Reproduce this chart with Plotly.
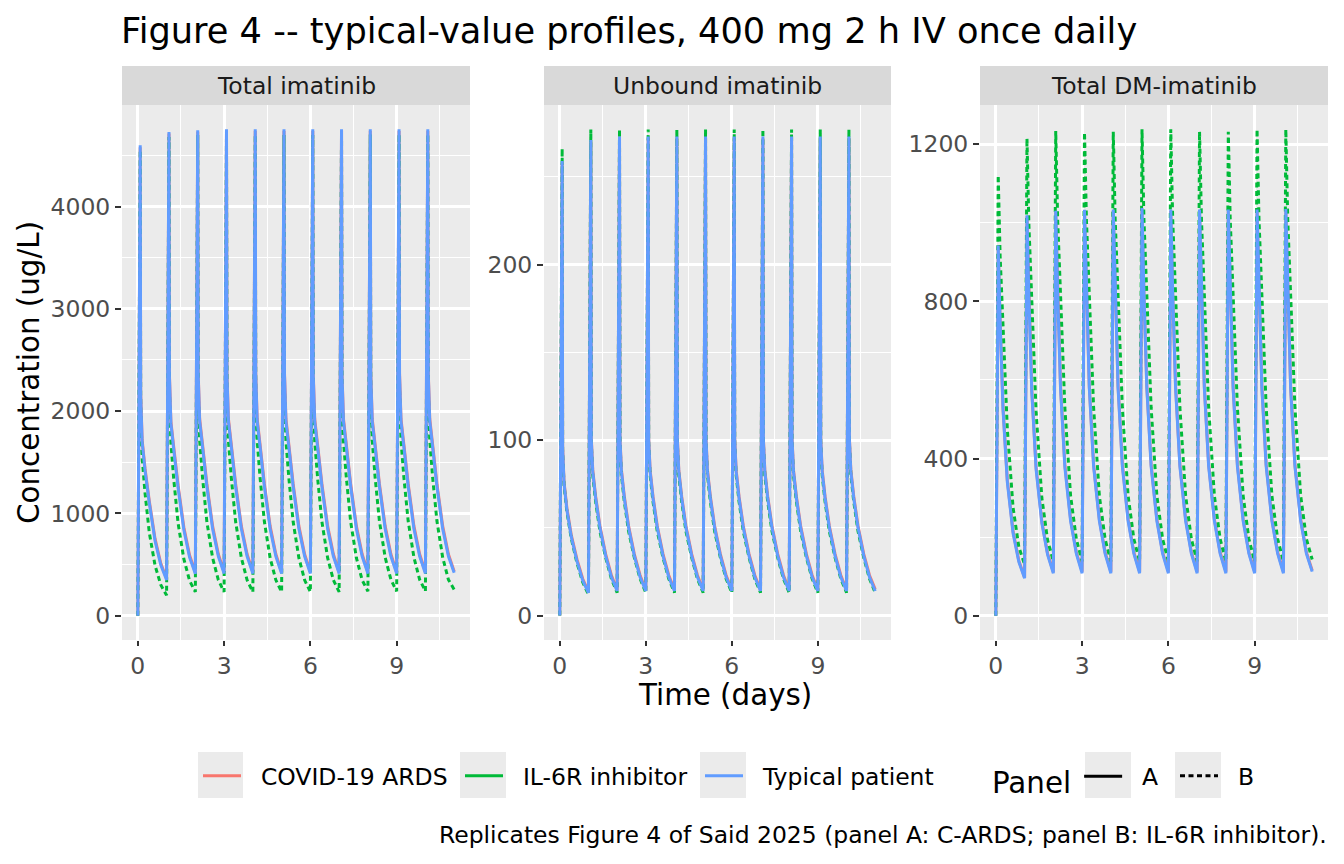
"""
Figure 4 -- typical-value imatinib profiles, three facets (ggplot look).
"""

import plotly.graph_objects as go

# dosing grid: once-daily doses, concentrations read at these offsets (days) after each dose
dose_days = [0, 1, 2, 3, 4, 5, 6, 7, 8, 9, 10]
sample_offsets = [0, 0.083, 0.1, 0.15, 0.25, 0.4, 0.6, 0.8]
end_day = 11

panels = ["Total imatinib", "Unbound imatinib", "Total DM-imatinib"]
groups = ["COVID-19 ARDS", "IL-6R inhibitor", "Typical patient"]

# ---- Total imatinib (ug/L): one row per dose, values at sample_offsets; then value at day 11
total_covid = [
    [0, 4580, 2170, 1720, 1440, 1120, 750, 510],
    [360, 4715, 2350, 1900, 1645, 1275, 865, 590],
    [422, 4732, 2370, 1925, 1675, 1290, 875, 600],
    [425, 4740, 2370, 1925, 1675, 1290, 875, 600],
    [425, 4740, 2370, 1925, 1675, 1290, 875, 600],
    [425, 4740, 2370, 1925, 1675, 1290, 875, 600],
    [425, 4740, 2370, 1925, 1675, 1290, 875, 600],
    [425, 4740, 2370, 1925, 1675, 1290, 875, 600],
    [425, 4740, 2370, 1925, 1675, 1290, 875, 600],
    [425, 4740, 2370, 1925, 1675, 1290, 875, 600],
    [425, 4740, 2370, 1925, 1675, 1290, 875, 600],
]
total_covid_end = 432
total_il6 = [
    [0, 4550, 2050, 1550, 1200, 810, 490, 300],
    [199, 4680, 2180, 1690, 1330, 905, 555, 342],
    [232, 4700, 2200, 1710, 1350, 920, 565, 348],
    [232, 4700, 2200, 1710, 1350, 920, 565, 348],
    [232, 4700, 2200, 1710, 1350, 920, 565, 348],
    [232, 4700, 2200, 1710, 1350, 920, 565, 348],
    [232, 4700, 2200, 1710, 1350, 920, 565, 348],
    [232, 4700, 2200, 1710, 1350, 920, 565, 348],
    [238, 4705, 2205, 1715, 1355, 925, 570, 352],
    [238, 4705, 2205, 1715, 1355, 925, 570, 352],
    [240, 4705, 2205, 1715, 1355, 925, 570, 352],
]
total_il6_end = 255
total_typical = [
    [0, 4600, 2150, 1700, 1420, 1100, 730, 495],
    [348, 4730, 2330, 1880, 1620, 1250, 840, 570],
    [410, 4745, 2350, 1900, 1650, 1265, 850, 580],
    [413, 4755, 2350, 1900, 1650, 1265, 850, 580],
    [413, 4755, 2350, 1900, 1650, 1265, 850, 580],
    [413, 4755, 2350, 1900, 1650, 1265, 850, 580],
    [413, 4755, 2350, 1900, 1650, 1265, 850, 580],
    [413, 4755, 2350, 1900, 1650, 1265, 850, 580],
    [413, 4755, 2350, 1900, 1650, 1265, 850, 580],
    [413, 4755, 2350, 1900, 1650, 1265, 850, 580],
    [413, 4755, 2350, 1900, 1650, 1265, 850, 580],
]
total_typical_end = 420

# ---- Unbound imatinib (ug/L)
unbound_covid = [
    [0, 258, 96, 76, 61, 46, 32, 21],
    [13.5, 270, 101, 83, 68, 51, 35, 23],
    [14.5, 272, 101, 83, 68, 51, 35, 23],
    [14.5, 272, 101, 83, 68, 51, 35, 23],
    [14.5, 272, 101, 83, 68, 51, 35, 23],
    [14.5, 272, 101, 83, 68, 51, 35, 23],
    [14.5, 272, 101, 83, 68, 51, 35, 23],
    [14.5, 272, 101, 83, 68, 51, 35, 23],
    [14.5, 272, 101, 83, 68, 51, 35, 23],
    [14.5, 272, 101, 83, 68, 51, 35, 23],
    [14.5, 272, 101, 83, 68, 51, 35, 23],
]
unbound_covid_end = 15
unbound_il6 = [
    [0, 266, 93, 74, 59, 44, 30, 19],
    [12, 277, 98, 80, 65, 48, 33, 21],
    [13, 277, 98, 80, 65, 48, 33, 21],
    [13, 277, 98, 80, 65, 48, 33, 21],
    [13, 277, 98, 80, 65, 48, 33, 21],
    [13, 277, 98, 80, 65, 48, 33, 21],
    [13, 277, 98, 80, 65, 48, 33, 21],
    [13, 277, 98, 80, 65, 48, 33, 21],
    [13, 277, 98, 80, 65, 48, 33, 21],
    [13, 277, 98, 80, 65, 48, 33, 21],
    [13, 277, 98, 80, 65, 48, 33, 21],
]
unbound_il6_end = 13
unbound_typical = [
    [0, 259, 95, 75, 60, 45, 31, 20],
    [13, 271, 100, 82, 67, 50, 34, 22],
    [14, 273, 100, 82, 67, 50, 34, 22],
    [14, 273, 100, 82, 67, 50, 34, 22],
    [14, 273, 100, 82, 67, 50, 34, 22],
    [14, 273, 100, 82, 67, 50, 34, 22],
    [14, 273, 100, 82, 67, 50, 34, 22],
    [14, 273, 100, 82, 67, 50, 34, 22],
    [14, 273, 100, 82, 67, 50, 34, 22],
    [14, 273, 100, 82, 67, 50, 34, 22],
    [14, 273, 100, 82, 67, 50, 34, 22],
]
unbound_typical_end = 14

# ---- Total DM-imatinib (ug/L)
dm_covid = [
    [0, 940, 892, 750, 530, 345, 214, 140],
    [97, 1016, 967, 812, 575, 378, 240, 158],
    [111, 1028, 978, 822, 585, 385, 245, 161],
    [112, 1030, 978, 822, 585, 385, 245, 161],
    [112, 1030, 978, 822, 585, 385, 245, 161],
    [112, 1034, 978, 822, 585, 385, 245, 161],
    [112, 1030, 978, 822, 585, 385, 245, 161],
    [112, 1030, 978, 822, 585, 385, 245, 161],
    [112, 1030, 978, 822, 585, 385, 245, 161],
    [112, 1030, 978, 822, 585, 385, 245, 161],
    [112, 1030, 978, 822, 585, 385, 245, 161],
]
dm_covid_end = 115
dm_il6 = [
    [0, 1121, 1070, 915, 740, 475, 275, 175],
    [130, 1215, 1160, 995, 805, 520, 300, 192],
    [138, 1234, 1180, 1010, 820, 530, 305, 195],
    [138, 1230, 1180, 1010, 820, 530, 305, 195],
    [138, 1232, 1180, 1010, 820, 530, 305, 195],
    [138, 1238, 1180, 1010, 820, 530, 305, 195],
    [138, 1238, 1180, 1010, 820, 530, 305, 195],
    [138, 1232, 1180, 1010, 820, 530, 305, 195],
    [138, 1232, 1180, 1010, 820, 530, 305, 195],
    [138, 1238, 1180, 1010, 820, 530, 305, 195],
    [138, 1238, 1180, 1010, 820, 530, 305, 195],
]
dm_il6_end = 143
dm_typical = [
    [0, 942, 890, 745, 525, 340, 210, 137],
    [95, 1019, 965, 808, 570, 373, 236, 155],
    [108, 1031, 978, 818, 578, 378, 240, 158],
    [108, 1033, 980, 820, 580, 380, 241, 158],
    [108, 1034, 980, 820, 580, 380, 241, 158],
    [108, 1038, 980, 820, 580, 380, 241, 158],
    [108, 1034, 980, 820, 580, 380, 241, 158],
    [108, 1034, 980, 820, 580, 380, 241, 158],
    [108, 1034, 980, 820, 580, 380, 241, 158],
    [108, 1034, 980, 820, 580, 380, 241, 158],
    [108, 1035, 980, 820, 580, 380, 241, 158],
]
dm_typical_end = 112

series = {
    "Total imatinib": [(total_covid, total_covid_end), (total_il6, total_il6_end),
                       (total_typical, total_typical_end)],
    "Unbound imatinib": [(unbound_covid, unbound_covid_end), (unbound_il6, unbound_il6_end),
                         (unbound_typical, unbound_typical_end)],
    "Total DM-imatinib": [(dm_covid, dm_covid_end), (dm_il6, dm_il6_end),
                          (dm_typical, dm_typical_end)],
}

colors = ["#F8766D", "#00BA38", "#619CFF"]
DASH = "5px,3.5px"
dashes = ["solid", DASH, "solid"]

y_ticks = [[0, 1000, 2000, 3000, 4000], [0, 100, 200], [0, 400, 800, 1200]]
y_minor = [[500, 1500, 2500, 3500, 4500], [50, 150, 250], [200, 600, 1000]]
y_ranges = [[-238, 4993], [-13.9, 290.9], [-62, 1300]]

FONT = "DejaVu Sans"
# page body adds an 8px margin, so the figure is 16px smaller than the window
W, H = 1328, 848
OFF = 8


def px(x):
    return (x - OFF) / W


def py(y):
    return 1 - (y - OFF) / H


times = [d + o for d in dose_days for o in sample_offsets] + [end_day]

LW = 3.0
fig = go.Figure()
for p, name in enumerate(panels):
    ax = "" if p == 0 else str(p + 1)
    for g, (rows, end) in enumerate(series[name]):
        conc = [v for r in rows for v in r] + [end]
        fig.add_trace(go.Scatter(
            x=times, y=conc, mode="lines", xaxis="x" + ax, yaxis="y" + ax,
            line=dict(color=colors[g], width=LW, dash=dashes[g]),
            showlegend=False, hoverinfo="skip",
        ))

# legend entries (keys drawn solid like ggplot colour guide)
NB = "\u00a0\u00a0"
legend_ids = ["legend", "legend2", "legend3"]
for g, grp in enumerate(groups):
    fig.add_trace(go.Scatter(x=[None], y=[None], mode="lines", name=NB + grp,
                             line=dict(color=colors[g], width=LW),
                             legend=legend_ids[g]))
fig.add_trace(go.Scatter(x=[None], y=[None], mode="lines", name=NB + "A",
                         line=dict(color="black", width=LW), legend="legend4"))
fig.add_trace(go.Scatter(x=[None], y=[None], mode="lines", name=NB + "B",
                         line=dict(color="black", width=LW, dash=DASH),
                         legend="legend5"))

# panel geometry in screen pixels
panel_x = [(122, 470), (544, 891), (980, 1328)]
plot_top, plot_bot = 105, 640
strip_top = 66

TICK = 23.47
AXT = 29.33

layout = dict(
    width=W, height=H, margin=dict(l=0, r=0, t=0, b=0),
    paper_bgcolor="white", plot_bgcolor="#EBEBEB",
    font=dict(family=FONT, color="black"),
    title=dict(text="Figure 4 -- typical-value profiles, 400 mg 2 h IV once daily",
               x=px(121), xanchor="left", y=py(31), yanchor="middle",
               font=dict(size=35.2, family=FONT, color="black")),
)

shapes = []
annotations = []
for p, (x0, x1) in enumerate(panel_x):
    ax = "" if p == 0 else str(p + 1)
    layout["xaxis" + ax] = dict(
        domain=[px(x0), px(x1)], anchor="y" + ax, range=[-0.55, 11.55],
        tickvals=[0, 3, 6, 9], ticks="outside", ticklen=5, tickwidth=1.8,
        tickcolor="#333333", showgrid=True, gridcolor="white", gridwidth=2.6,
        minor=dict(tickvals=[1.5, 4.5, 7.5, 10.5], showgrid=True,
                   gridcolor="white", gridwidth=1.3, ticks=""),
        zeroline=False, showline=False,
        tickfont=dict(size=TICK, color="#4D4D4D", family=FONT),
    )
    layout["yaxis" + ax] = dict(
        domain=[py(plot_bot), py(plot_top)], anchor="x" + ax,
        range=y_ranges[p], tickvals=y_ticks[p], ticks="outside", ticklen=6,
        tickwidth=1.8, tickcolor="#333333", showgrid=True, gridcolor="white",
        gridwidth=2.6,
        minor=dict(tickvals=y_minor[p], showgrid=True, gridcolor="white",
                   gridwidth=1.3, ticks=""),
        zeroline=False, showline=False,
        tickfont=dict(size=TICK, color="#4D4D4D", family=FONT),
    )
    shapes.append(dict(type="rect", xref="paper", yref="paper",
                       x0=px(x0), x1=px(x1), y0=py(plot_top), y1=py(strip_top),
                       fillcolor="#D9D9D9", line=dict(width=0)))
    annotations.append(dict(text=panels[p], xref="paper", yref="paper",
                            x=px((x0 + x1) / 2), y=py(86), showarrow=False,
                            xanchor="center", yanchor="middle",
                            font=dict(size=TICK, color="#1A1A1A", family=FONT)))

annotations.append(dict(text="Time (days)", xref="paper", yref="paper",
                        x=px(725), y=py(695), showarrow=False,
                        xanchor="center", yanchor="middle",
                        font=dict(size=AXT, family=FONT, color="black")))
annotations.append(dict(text="Concentration (ug/L)", xref="paper", yref="paper",
                        x=px(29), y=py(373), showarrow=False, textangle=-90,
                        xanchor="center", yanchor="middle",
                        font=dict(size=AXT, family=FONT, color="black")))
annotations.append(dict(
    text="Replicates Figure 4 of Said 2025 (panel A: C-ARDS; panel B: IL-6R inhibitor).",
    xref="paper", yref="paper", x=px(1329), y=py(835), showarrow=False,
    xanchor="right", yanchor="middle",
    font=dict(size=TICK, family=FONT, color="black")))

# grey key backgrounds as in ggplot legends
key_boxes = [(198, 243), (460, 506), (700, 746), (1085, 1131), (1175, 1221)]
for kx0, kx1 in key_boxes:
    shapes.append(dict(type="rect", xref="paper", yref="paper",
                       x0=px(kx0), x1=px(kx1), y0=py(798), y1=py(752),
                       fillcolor="#EBEBEB", line=dict(width=0), layer="below"))

legend_x = [198, 460, 700, 990, 1175]
for i, lid in enumerate(["legend", "legend2", "legend3", "legend4", "legend5"]):
    layout[lid] = dict(
        x=px(legend_x[i]), y=py(776), xanchor="left", yanchor="middle",
        orientation="h", bgcolor="rgba(0,0,0,0)", itemwidth=38,
        font=dict(size=TICK, family=FONT, color="black"),
        itemclick=False, itemdoubleclick=False,
    )
layout["legend4"]["y"] = py(779)
layout["legend4"]["title"] = dict(text="Panel", side="left",
                                  font=dict(size=AXT, family=FONT, color="black"))

layout["shapes"] = shapes
layout["annotations"] = annotations
fig.update_layout(**layout)

fig.write_html("out.html")
